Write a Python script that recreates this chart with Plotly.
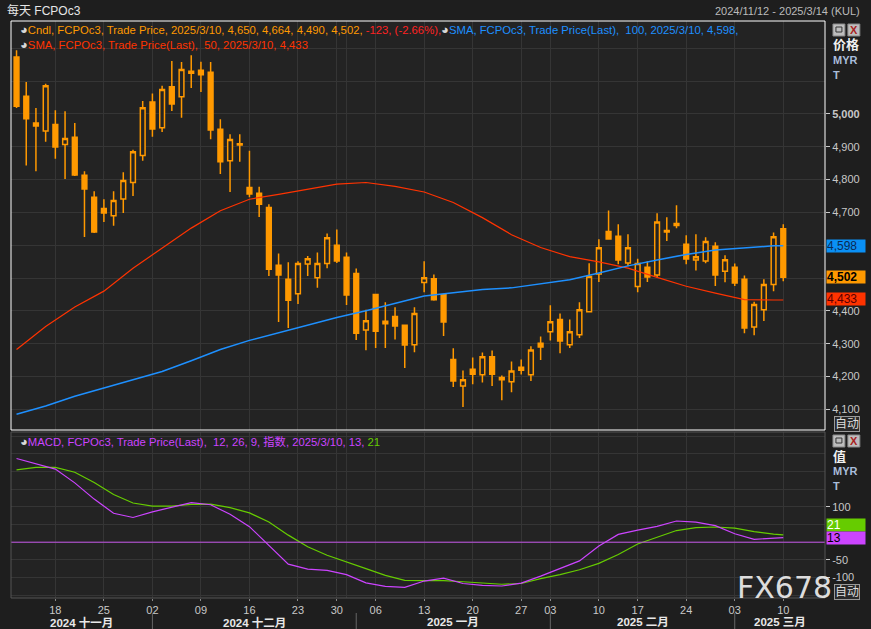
import plotly.graph_objects as go

# ---------------- data ----------------
dates = [
    "2024-11-12", "2024-11-13", "2024-11-14", "2024-11-15",
    "2024-11-18", "2024-11-19", "2024-11-20", "2024-11-21", "2024-11-22",
    "2024-11-25", "2024-11-26", "2024-11-27", "2024-11-28", "2024-11-29",
    "2024-12-02", "2024-12-03", "2024-12-04", "2024-12-05", "2024-12-06",
    "2024-12-09", "2024-12-10", "2024-12-11", "2024-12-12", "2024-12-13",
    "2024-12-16", "2024-12-17", "2024-12-18", "2024-12-19", "2024-12-20",
    "2024-12-23", "2024-12-24", "2024-12-26", "2024-12-27",
    "2024-12-30", "2024-12-31", "2025-01-02", "2025-01-03",
    "2025-01-06", "2025-01-07", "2025-01-08", "2025-01-09", "2025-01-10",
    "2025-01-13", "2025-01-14", "2025-01-15", "2025-01-16", "2025-01-17",
    "2025-01-20", "2025-01-21", "2025-01-22", "2025-01-23", "2025-01-24",
    "2025-01-27", "2025-01-28", "2025-01-31",
    "2025-02-03", "2025-02-04", "2025-02-05", "2025-02-06", "2025-02-07",
    "2025-02-10", "2025-02-12", "2025-02-13", "2025-02-14",
    "2025-02-17", "2025-02-18", "2025-02-19", "2025-02-20", "2025-02-21",
    "2025-02-24", "2025-02-25", "2025-02-26", "2025-02-27", "2025-02-28",
    "2025-03-03", "2025-03-04", "2025-03-05", "2025-03-06", "2025-03-07",
    "2025-03-10",
]
opens = [5173, 5054, 4972, 4948, 4968, 4907, 4929, 4813, 4746, 4712,
         4690, 4741, 4791, 4873, 5036, 4958, 5083, 5052, 5124, 5133,
         5127, 4953, 4857, 4909, 4776, 4758, 4715, 4539, 4496, 4452,
         4543, 4501, 4544, 4600, 4563, 4514, 4342, 4450, 4361, 4383,
         4356, 4297, 4486, 4498, 4449, 4252, 4171, 4222, 4205, 4260,
         4197, 4184, 4228, 4205, 4301, 4336, 4374, 4297, 4327, 4397,
         4512, 4642, 4627, 4546, 4474, 4533, 4509, 4645, 4660, 4603,
         4555, 4552, 4597, 4521, 4533, 4496, 4351, 4403, 4480, 4650]
highs = [5194, 5097, 5018, 5092, 5011, 5008, 4972, 4825, 4764, 4740,
         4764, 4822, 4891, 5039, 5062, 5086, 5161, 5158, 5179, 5159,
         5158, 4984, 4938, 4938, 4888, 4778, 4725, 4575, 4548, 4551,
         4567, 4578, 4636, 4648, 4578, 4529, 4403, 4452, 4426, 4411,
         4358, 4411, 4551, 4511, 4452, 4286, 4218, 4258, 4273, 4279,
         4203, 4246, 4252, 4292, 4322, 4417, 4392, 4374, 4426, 4545,
         4618, 4706, 4664, 4633, 4559, 4551, 4697, 4685, 4722, 4630,
         4633, 4624, 4609, 4569, 4544, 4508, 4428, 4496, 4639, 4664]
lows = [5018, 4843, 4825, 4915, 4863, 4802, 4811, 4625, 4637, 4671,
        4659, 4698, 4750, 4857, 4930, 4945, 5009, 4988, 5079, 5067,
        4923, 4817, 4762, 4854, 4746, 4686, 4506, 4366, 4348, 4421,
        4506, 4470, 4530, 4546, 4418, 4311, 4280, 4287, 4287, 4313,
        4226, 4274, 4457, 4431, 4323, 4168, 4107, 4176, 4182, 4171,
        4128, 4152, 4206, 4186, 4250, 4310, 4271, 4287, 4317, 4396,
        4488, 4617, 4542, 4536, 4457, 4488, 4501, 4613, 4652, 4542,
        4523, 4545, 4476, 4487, 4476, 4332, 4326, 4369, 4460, 4490]
closes = [5023, 4985, 4963, 5086, 4899, 4925, 4814, 4771, 4640, 4698,
          4736, 4797, 4885, 5019, 4954, 5074, 5030, 5135, 5130, 5119,
          4951, 4854, 4922, 4905, 4756, 4725, 4527, 4509, 4432, 4544,
          4559, 4544, 4623, 4552, 4448, 4332, 4370, 4338, 4368, 4354,
          4296, 4392, 4501, 4434, 4366, 4186, 4190, 4207, 4260, 4207,
          4190, 4217, 4219, 4281, 4290, 4367, 4308, 4336, 4403, 4505,
          4592, 4619, 4555, 4592, 4544, 4503, 4671, 4640, 4666, 4558,
          4565, 4611, 4509, 4556, 4485, 4348, 4419, 4480, 4626, 4502]

sma_dates = ["2024-11-12", "2024-11-15", "2024-11-20", "2024-11-25", "2024-11-28",
             "2024-12-03", "2024-12-06", "2024-12-11", "2024-12-16", "2024-12-19",
             "2024-12-24", "2024-12-30", "2025-01-03", "2025-01-08", "2025-01-13",
             "2025-01-16", "2025-01-21", "2025-01-24", "2025-01-31", "2025-02-05",
             "2025-02-10", "2025-02-14", "2025-02-19", "2025-02-24", "2025-02-27",
             "2025-03-04", "2025-03-07", "2025-03-10"]
sma50 = [4282, 4352, 4412, 4460, 4530, 4590, 4652, 4705, 4740, 4755,
         4770, 4786, 4791, 4779, 4762, 4730, 4684, 4632, 4593, 4565,
         4549, 4530, 4502, 4475, 4454, 4434, 4433, 4433]
sma100 = [4085, 4110, 4140, 4165, 4188, 4215, 4248, 4282, 4310, 4333,
          4356, 4380, 4400, 4423, 4445, 4455, 4465, 4470, 4482, 4495,
          4515, 4537, 4555, 4572, 4585, 4592, 4598, 4598]

macd_dates = ["2024-11-12", "2024-11-14", "2024-11-18", "2024-11-20", "2024-11-22",
              "2024-11-26", "2024-11-28", "2024-12-02", "2024-12-04", "2024-12-06",
              "2024-12-10", "2024-12-12", "2024-12-16", "2024-12-18", "2024-12-20",
              "2024-12-24", "2024-12-27", "2024-12-31", "2025-01-03", "2025-01-07",
              "2025-01-09", "2025-01-13", "2025-01-15", "2025-01-17", "2025-01-21",
              "2025-01-23", "2025-01-27", "2025-01-31", "2025-02-04", "2025-02-06",
              "2025-02-10", "2025-02-13", "2025-02-17", "2025-02-19", "2025-02-21",
              "2025-02-25", "2025-02-27", "2025-03-03", "2025-03-05", "2025-03-07",
              "2025-03-10"]
macd = [237, 222, 207, 168, 122, 82, 70, 86, 99, 112,
        106, 79, 44, -9, -62, -76, -80, -92, -115, -125,
        -128, -110, -102, -117, -122, -124, -116, -96, -74, -53,
        -11, 22, 34, 45, 60, 57, 47, 24, 8, 12, 13]
signal = [205, 212, 212, 198, 169, 135, 111, 102, 102, 107,
          108, 98, 83, 57, 20, -13, -37, -55, -75, -94,
          -108, -109, -109, -112, -116, -119, -117, -103, -92, -78,
          -60, -35, -5, 13, 33, 41, 43, 40, 30, 23, 21]

tick_dates = ["2024-11-18", "2024-11-25", "2024-12-02", "2024-12-09", "2024-12-16",
              "2024-12-23", "2024-12-30", "2025-01-06", "2025-01-13", "2025-01-20",
              "2025-01-27", "2025-02-03", "2025-02-10", "2025-02-17", "2025-02-24",
              "2025-03-03", "2025-03-10"]
tick_labels = ["18", "25", "02", "09", "16", "23", "30", "06", "13", "20",
               "27", "03", "10", "17", "24", "03", "10"]
month_starts = ["2024-12-02", "2025-01-02", "2025-02-03", "2025-03-03"]
month_labels = ["2024 十一月", "2024 十二月", "2025 一月", "2025 二月", "2025 三月"]

price_ticks = [4100, 4200, 4300, 4400, 4700, 4800, 4900, 5000]
price_ticktext = ["4,100", "4,200", "4,300", "4,400", "4,700", "4,800", "4,900", "<b>5,000</b>"]
macd_ticks = [100, -50, -100]
macd_ticktext = ["100", "-50", "-100"]

# ---------------- layout helpers ----------------
W, H = 871, 629
ML, MR, MT, MB = 11, 42, 21, 31
PW, PH = W - ML - MR, H - MT - MB
X_RANGE = [-0.57, 83.3]


def px(x):
    return (x - ML) / PW


def py(y):
    return (H - MB - y) / PH


TOP_DOM = [py(430), 1.0]
BOT_DOM = [0.0, py(432)]

BG = "#1e1e1e"
PLOT_BG = "#232323"
GRID = "#353535"
ORANGE = "#ff9900"
RED = "#ff3300"
BLUE = "#1e90ff"
MAG = "#cc44ff"
GREEN = "#66cc00"
LBL = "#c8c8c8"
FONT = "Liberation Sans, Noto Sans CJK SC, sans-serif"

fig = go.Figure()

fig.add_trace(go.Candlestick(
    x=dates, open=opens, high=highs, low=lows, close=closes,
    increasing=dict(line=dict(color=ORANGE, width=1.5), fillcolor=PLOT_BG),
    decreasing=dict(line=dict(color=ORANGE, width=1.5), fillcolor=ORANGE),
    whiskerwidth=0, xaxis="x", yaxis="y", showlegend=False, hoverinfo="skip",
))
fig.add_trace(go.Scatter(x=sma_dates, y=sma50, mode="lines",
                         line=dict(color=RED, width=1.2), xaxis="x", yaxis="y",
                         showlegend=False, hoverinfo="skip"))
fig.add_trace(go.Scatter(x=sma_dates, y=sma100, mode="lines",
                         line=dict(color=BLUE, width=1.5), xaxis="x", yaxis="y",
                         showlegend=False, hoverinfo="skip"))
fig.add_trace(go.Scatter(x=macd_dates, y=signal, mode="lines",
                         line=dict(color=GREEN, width=1.2), xaxis="x2", yaxis="y2",
                         showlegend=False, hoverinfo="skip"))
fig.add_trace(go.Scatter(x=macd_dates, y=macd, mode="lines",
                         line=dict(color=MAG, width=1.2), xaxis="x2", yaxis="y2",
                         showlegend=False, hoverinfo="skip"))

axis_common = dict(type="category", categoryorder="array", categoryarray=dates,
                   range=X_RANGE, showgrid=True, gridcolor=GRID, gridwidth=1,
                   tickvals=tick_dates, zeroline=False, showline=False)

shapes = []
annotations = []


def note(x, y, text, size=11, color=LBL, xanchor="center", yanchor="middle", **kw):
    d = dict(x=x, y=y, xref=kw.pop("xref", "paper"), yref=kw.pop("yref", "paper"),
             xanchor=xanchor, yanchor=yanchor, text=text, showarrow=False,
             font=dict(size=size, color=color, family=kw.pop("family", FONT)))
    d.update(kw)
    annotations.append(d)


# extra vertical grid line at year end
for xr, yr in [("x", "y"), ("x2", "y2")]:
    shapes.append(dict(type="line", xref=xr, yref=yr + " domain",
                       x0="2024-12-31", x1="2024-12-31", y0=0, y1=1,
                       line=dict(color=GRID, width=1), layer="below"))

# zero line of MACD
shapes.append(dict(type="line", xref="paper", yref="y2", x0=0, x1=1, y0=0, y1=0,
                   line=dict(color="#c455e8", width=1)))

# panel borders
shapes.append(dict(type="rect", xref="paper", yref="paper", x0=0, x1=1,
                   y0=TOP_DOM[0], y1=TOP_DOM[1], line=dict(color="#ffffff", width=1)))
shapes.append(dict(type="rect", xref="paper", yref="paper", x0=0, x1=1,
                   y0=BOT_DOM[0], y1=BOT_DOM[1], line=dict(color="#555555", width=1)))

# month separators & labels
for d in month_starts:
    shapes.append(dict(type="line", xref="x2", yref="paper", x0=d, x1=d,
                       y0=py(613), y1=py(629), line=dict(color="#666666", width=1)))
starts = [X_RANGE[0]] + [dates.index(d) for d in month_starts] + [X_RANGE[1]]
for k, lab in enumerate(month_labels):
    note((starts[k] + starts[k + 1]) / 2, py(622), "<b>%s</b>" % lab, size=11.5,
         color="#e8e8e8", xref="x2")

# header
note(px(5), py(11), "每天 FCPOc3", size=12, color="#e6e6e6", xanchor="left")
note(px(866), py(11), "2024/11/12 - 2025/3/14 (KUL)", size=11, color="#bbbbbb",
     xanchor="right")

# legends
icon = '<span style="color:#d8d8d8;font-size:13px">◕</span>'
line1 = (icon + '<span style="color:%s">Cndl, FCPOc3, Trade Price, 2025/3/10, 4,650, 4,664, 4,490, 4,502, </span>' % ORANGE
         + '<span style="color:#ff2222">-123, (-2.66%),</span>' + icon
         + '<span style="color:%s">SMA, FCPOc3, Trade Price(Last),  100, 2025/3/10, 4,598,</span>' % BLUE)
line2 = icon + '<span style="color:%s">SMA, FCPOc3, Trade Price(Last),  50, 2025/3/10, 4,433</span>' % RED
line3 = (icon + '<span style="color:%s">MACD, FCPOc3, Trade Price(Last),  12, 26, 9, 指数, 2025/3/10, 13, </span>' % MAG
         + '<span style="color:%s">21</span>' % GREEN)
for txt, yy in [(line1, 30), (line2, 44), (line3, 441)]:
    note(px(18), py(yy), txt, size=11.3, xanchor="left")

# right-side labels
for txt, yy, col, sz in [("价格", 45, "#f0f0f0", 13), ("MYR", 60, "#a9bcd9", 11), ("T", 75, "#a9bcd9", 11),
                         ("值", 456, "#f0f0f0", 13), ("MYR", 471, "#a9bcd9", 11), ("T", 486, "#a9bcd9", 11)]:
    note(px(835), py(yy), "<b>%s</b>" % txt, size=sz, color=col, xanchor="left")

# window icons
for yy in [30, 441]:
    shapes.append(dict(type="rect", xref="paper", yref="paper", x0=px(837), x1=px(849),
                       y0=py(yy + 6), y1=py(yy - 6), fillcolor="#bdbdbd",
                       line=dict(color="#888888", width=1)))
    shapes.append(dict(type="rect", xref="paper", yref="paper", x0=px(840), x1=px(846),
                       y0=py(yy + 2), y1=py(yy - 3), line=dict(color="#333333", width=1)))
    shapes.append(dict(type="rect", xref="paper", yref="paper", x0=px(852), x1=px(864),
                       y0=py(yy + 6), y1=py(yy - 6), fillcolor="#bdbdbd",
                       line=dict(color="#888888", width=1)))
    note(px(858), py(yy), "<b>X</b>", size=11, color="#aa2222")

# "自动" buttons
for yy in [424, 592]:
    note(px(851), py(yy), "自动", size=12, color="#dddddd", bordercolor="#999999",
         borderwidth=1, borderpad=0, bgcolor="#2a2a2a")

# value tags
for val, yref, bg, fc, shift, bold in [
        (sma100[-1], "y", "#0a90f5", "#0a2a55", 0, False),
        (closes[-1], "y", ORANGE, "#000000", 0, True),
        (sma50[-1], "y", RED, "#5a0000", 1, False),
        (signal[-1], "y2", GREEN, "#ffffff", 10, False),
        (macd[-1], "y2", MAG, "#000000", 0, False)]:
    t = "{:,}".format(val)
    if bold:
        t = "<b>%s</b>" % t
    note(1, val, t, size=12, color=fc, xanchor="left", yref=yref, xshift=1,
         yshift=shift, align="left", width=38, height=12, bgcolor=bg, borderpad=0)

# watermark
note(px(788), py(587), "FX678", size=30, color="rgba(240,240,240,0.92)",
     family="DejaVu Sans", height=28, valign="middle")

fig.update_layout(
    width=W, height=H,
    margin=dict(l=ML, r=MR, t=MT, b=MB, pad=0),
    paper_bgcolor=BG, plot_bgcolor=PLOT_BG,
    boxgap=0.3,
    showlegend=False,
    font=dict(family=FONT, color=LBL, size=11),
    xaxis=dict(domain=[0, 1], anchor="y", showticklabels=False, ticks="",
               rangeslider=dict(visible=False), **axis_common),
    xaxis2=dict(domain=[0, 1], anchor="y2", matches="x", ticktext=tick_labels,
                ticks="outside", ticklen=2, tickcolor="#888888",
                tickfont=dict(size=11, color=LBL, family=FONT), **axis_common),
    yaxis=dict(domain=TOP_DOM, anchor="x", side="right", range=[4037, 5283],
               tickvals=price_ticks, ticktext=price_ticktext, ticks="outside",
               ticklen=4, tickcolor=LBL, tickfont=dict(size=11, color=LBL, family=FONT),
               showgrid=True, gridcolor=GRID, zeroline=False,
               minor=dict(tickmode="linear", tick0=0, dtick=100, showgrid=True,
                          gridcolor=GRID, ticklen=0)),
    yaxis2=dict(domain=BOT_DOM, anchor="x2", side="right", range=[-158, 312],
                tickvals=macd_ticks, ticktext=macd_ticktext, ticks="outside",
                ticklen=4, tickcolor=LBL, tickfont=dict(size=11, color=LBL, family=FONT),
                showgrid=True, gridcolor=GRID, zeroline=False,
                minor=dict(tickmode="linear", tick0=0, dtick=50, showgrid=True,
                           gridcolor=GRID, ticklen=0)),
    shapes=shapes,
    annotations=annotations,
)

fig.write_html("out.html", config={"displayModeBar": False},
               post_script="document.body.style.margin='0';document.body.style.overflow='hidden';")
